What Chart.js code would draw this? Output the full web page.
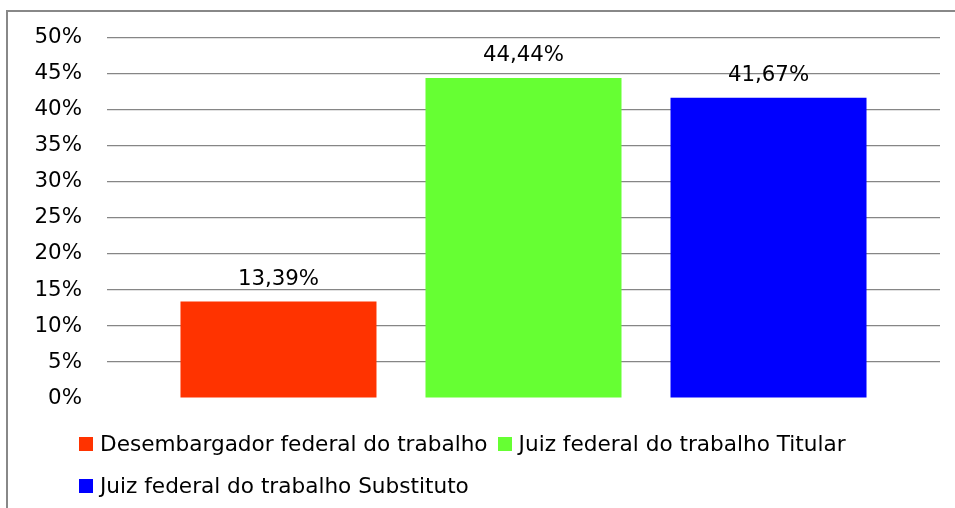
<!DOCTYPE html>
<html>
<head>
<meta charset="utf-8">
<script src="https://cdn.jsdelivr.net/npm/chart.js@4"></script>
<style>
  html, body { margin: 0; padding: 0; background: #fff; }
  #wrap { position: relative; width: 955px; height: 508px; overflow: hidden; }
  #frame { position: absolute; left: 6px; top: 10px; width: 1000px; height: 600px;
           border-left: 2px solid #888; border-top: 2px solid #888; }
  #chart { position: absolute; left: 0; top: 0; }
  #legend { position: absolute; left: 79px; top: 423px; width: 780px;
            font-family: "DejaVu Sans", sans-serif; font-size: 21.6px; color: #000; line-height: 42px; }
  .item { display: inline-block; margin-right: 10px; white-space: nowrap; }
  .box { display: inline-block; width: 14px; height: 14px; margin-right: 7px; }
</style>
</head>
<body>
<div id="wrap">
  <div id="frame"></div>
  <canvas id="chart" width="955" height="508"></canvas>
  <div id="legend"></div>
</div>
<script>
// données
const series = ['Desembargador federal do trabalho', 'Juiz federal do trabalho Titular', 'Juiz federal do trabalho Substituto'];
const valeurs = [13.39, 44.44, 41.67];
const couleurs = ['#ff3300', '#66ff33', '#0000ff'];
const etiquettes = ['13,39%', '44,44%', '41,67%'];
const yTicks = [0, 5, 10, 15, 20, 25, 30, 35, 40, 45, 50];

const police = '"DejaVu Sans", sans-serif';

// étiquettes au-dessus des barres
const etiquettesPlugin = {
    id: 'etiquettes',
    afterDatasetsDraw(chart) {
        const ctx = chart.ctx;
        ctx.save();
        ctx.font = '21.3px ' + police;
        ctx.fillStyle = '#000';
        ctx.textAlign = 'center';
        ctx.textBaseline = 'alphabetic';
        chart.data.datasets.forEach((ds, i) => {
            const bar = chart.getDatasetMeta(i).data[0];
            ctx.fillText(etiquettes[i], bar.x, bar.y - 17);
        });
        ctx.restore();
    }
};

new Chart(document.getElementById('chart'), {
    type: 'bar',
    data: {
        labels: [''],
        datasets: series.map((s, i) => ({
            label: s,
            data: [valeurs[i]],
            backgroundColor: couleurs[i],
            barPercentage: 0.8,
            categoryPercentage: 0.8824
        }))
    },
    options: {
        responsive: false,
        animation: false,
        layout: { padding: { left: 0, right: 15, top: 37, bottom: 110 } },
        plugins: { legend: { display: false }, tooltip: { enabled: false } },
        scales: {
            x: { display: false },
            y: {
                min: 0, max: 50,
                afterFit(scale) { scale.width = 107; },
                afterBuildTicks(scale) { scale.ticks = yTicks.map(v => ({ value: v })); },
                border: { display: false },
                grid: {
                    drawTicks: false,
                    color: c => c.tick && c.tick.value === 0 ? 'rgba(0,0,0,0)' : '#868686',
                    lineWidth: 1.2
                },
                ticks: {
                    padding: 25,
                    color: '#000',
                    font: { family: police, size: 21.4 },
                    callback: v => v + '%'
                }
            }
        }
    },
    plugins: [etiquettesPlugin]
});

// légende
const legende = document.getElementById('legend');
legende.innerHTML = series.map((s, i) =>
    `<span class="item"><span class="box" style="background:${couleurs[i]}"></span>${s}</span>`
).join('');
</script>
</body>
</html>
